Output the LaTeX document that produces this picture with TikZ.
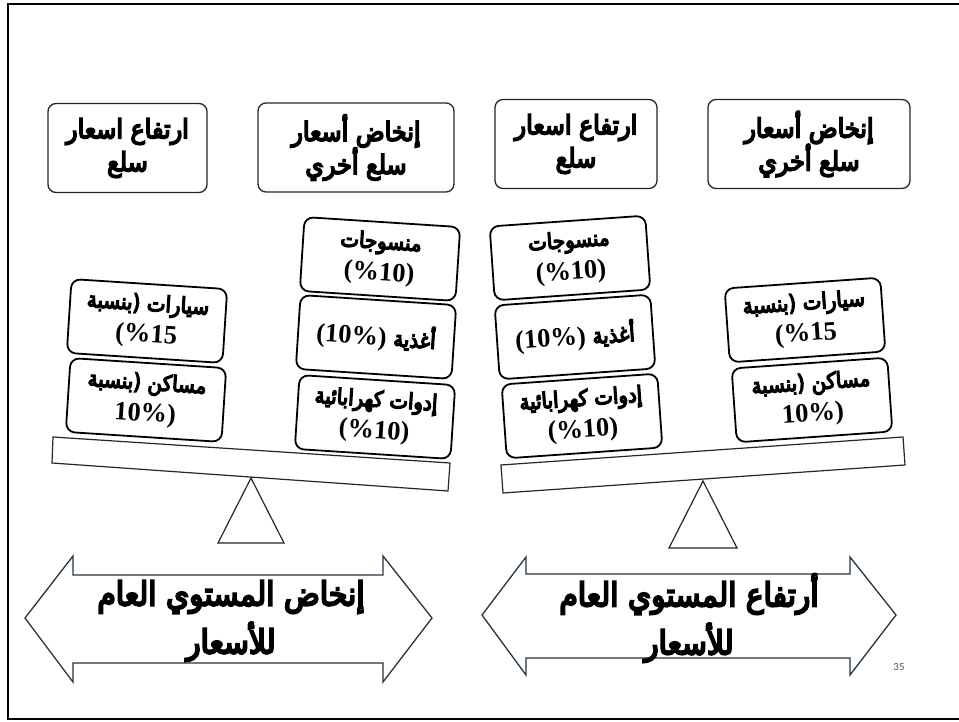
\documentclass[tikz,border=0pt]{standalone}
\usepackage{fontspec}
\TeXXeTstate=1
\newfontfamily\arabicfont[Script=Arabic,FakeBold=6,FakeStretch=0.9]{DejaVu Sans}
\newfontfamily\numfont{Liberation Serif}
\newfontfamily\pgnumfont{Carlito}
\newcommand{\AR}[1]{{\arabicfont\beginR #1\endR}}
\newcommand{\NM}[1]{{\numfont\bfseries\fontsize{26.5}{31}\selectfont #1}}
\definecolor{arrowcol}{RGB}{38,52,64}
\definecolor{pagegrey}{RGB}{89,89,89}
\tikzset{
  topbox/.style={draw=black!85, line width=1.3pt, rounded corners=8pt, minimum height=89pt, align=center, inner sep=0pt,
    font=\fontsize{26.5}{33}\selectfont},
  itembox/.style={draw=black, line width=1.8pt, rounded corners=9pt, minimum width=156pt, minimum height=74pt, align=center, inner sep=0pt,
    font=\fontsize{22}{31.5}\selectfont, fill=white},
  beam/.style={draw=black!85, line width=1.2pt, fill=white},
  arrowshape/.style={draw=arrowcol, line width=1.3pt, fill=white},
  arrowtext/.style={align=center, inner sep=0pt, font=\fontsize{33}{48}\selectfont},
}
\begin{document}
\begin{tikzpicture}[x=1pt, y=-1pt]
\useasboundingbox (0,0) rectangle (959,722);
% frame
\draw[line width=2.6pt] (965,4) -- (8,4) -- (8,719) -- (965,719);

% top boxes
\node[topbox, minimum width=159pt] (tb1) at (127.5,148) {\AR{ارتفاع اسعار}\\\AR{سلع}};
\node[topbox, minimum width=196pt] (tb2) at (356,147.5) {\AR{إنخاض أسعار}\\\AR{سلع أخري}};
\node[topbox, minimum width=162pt] (tb3) at (576,144) {\AR{ارتفاع اسعار}\\\AR{سلع}};
\node[topbox, minimum width=202pt] (tb4) at (809,144) {\AR{إنخاض أسعار}\\\AR{سلع أخري}};

% beams
\draw[beam] (53,437) -- (450,463) -- (448,491) -- (52,463) -- cycle;
\draw[beam] (501,465) -- (903,437) -- (905,465) -- (503,493) -- cycle;
% fulcrums
\draw[beam] (251,478) -- (284,543) -- (218,543) -- cycle;
\draw[beam] (703,481) -- (737,548) -- (669,548) -- cycle;

% left side items
\node[itembox, rotate=-3.7] (l1) at (380,259) {\AR{منسوجات}\\\NM{(\%10)}};
\node[itembox, rotate=-3.7] (l2) at (376,337) {\NM{(10\%)}\ \AR{أغذية}};
\node[itembox, rotate=-3.7] (l3) at (375,417) {\AR{إدوات كهرابائية}\\\NM{(\%10)}};
\node[itembox, rotate=-3.7] (l4) at (147,321) {\AR{بنسبة}{\arabicfont(}\ \AR{سيارات}\\\NM{(\%15}};
\node[itembox, rotate=-3.7] (l5) at (146,400) {\AR{بنسبة}{\arabicfont(}\ \AR{مساكن}\\\NM{10\%)}};

% right side items
\node[itembox, rotate=4] (r1) at (570,258) {\AR{منسوجات}\\\NM{(\%10)}};
\node[itembox, rotate=4] (r2) at (575,337) {\NM{(10\%)}\ \AR{أغذية}};
\node[itembox, rotate=4] (r3) at (582,416) {\AR{إدوات كهرابائية}\\\NM{(\%10)}};
\node[itembox, rotate=4] (r4) at (805,320) {\AR{بنسبة}{\arabicfont(}\ \AR{سيارات}\\\NM{(\%15}};
\node[itembox, rotate=4] (r5) at (812,400) {\AR{بنسبة}{\arabicfont(}\ \AR{مساكن}\\\NM{10\%)}};

% double arrows
\draw[arrowshape] (25,618) -- (73,556) -- (73,575) -- (383,575) -- (383,556) -- (432,618)
  -- (383,682) -- (383,663) -- (73,663) -- (73,682) -- cycle;
\draw[arrowshape] (482,615) -- (526,557) -- (526,574) -- (850,574) -- (850,557) -- (896,615)
  -- (850,675) -- (850,658) -- (526,658) -- (526,675) -- cycle;
\node[arrowtext] (lt) at (231,621) {\AR{إنخاض المستوي العام}\\\AR{للأسعار}};
\node[arrowtext] (rt) at (689,618) {\AR{أرتفاع المستوي العام}\\\AR{للأسعار}};

% page number
\node[font=\pgnumfont\fontsize{11}{13}\selectfont, text=pagegrey, inner sep=0pt] (pg) at (899,667) {35};
\end{tikzpicture}
\end{document}
